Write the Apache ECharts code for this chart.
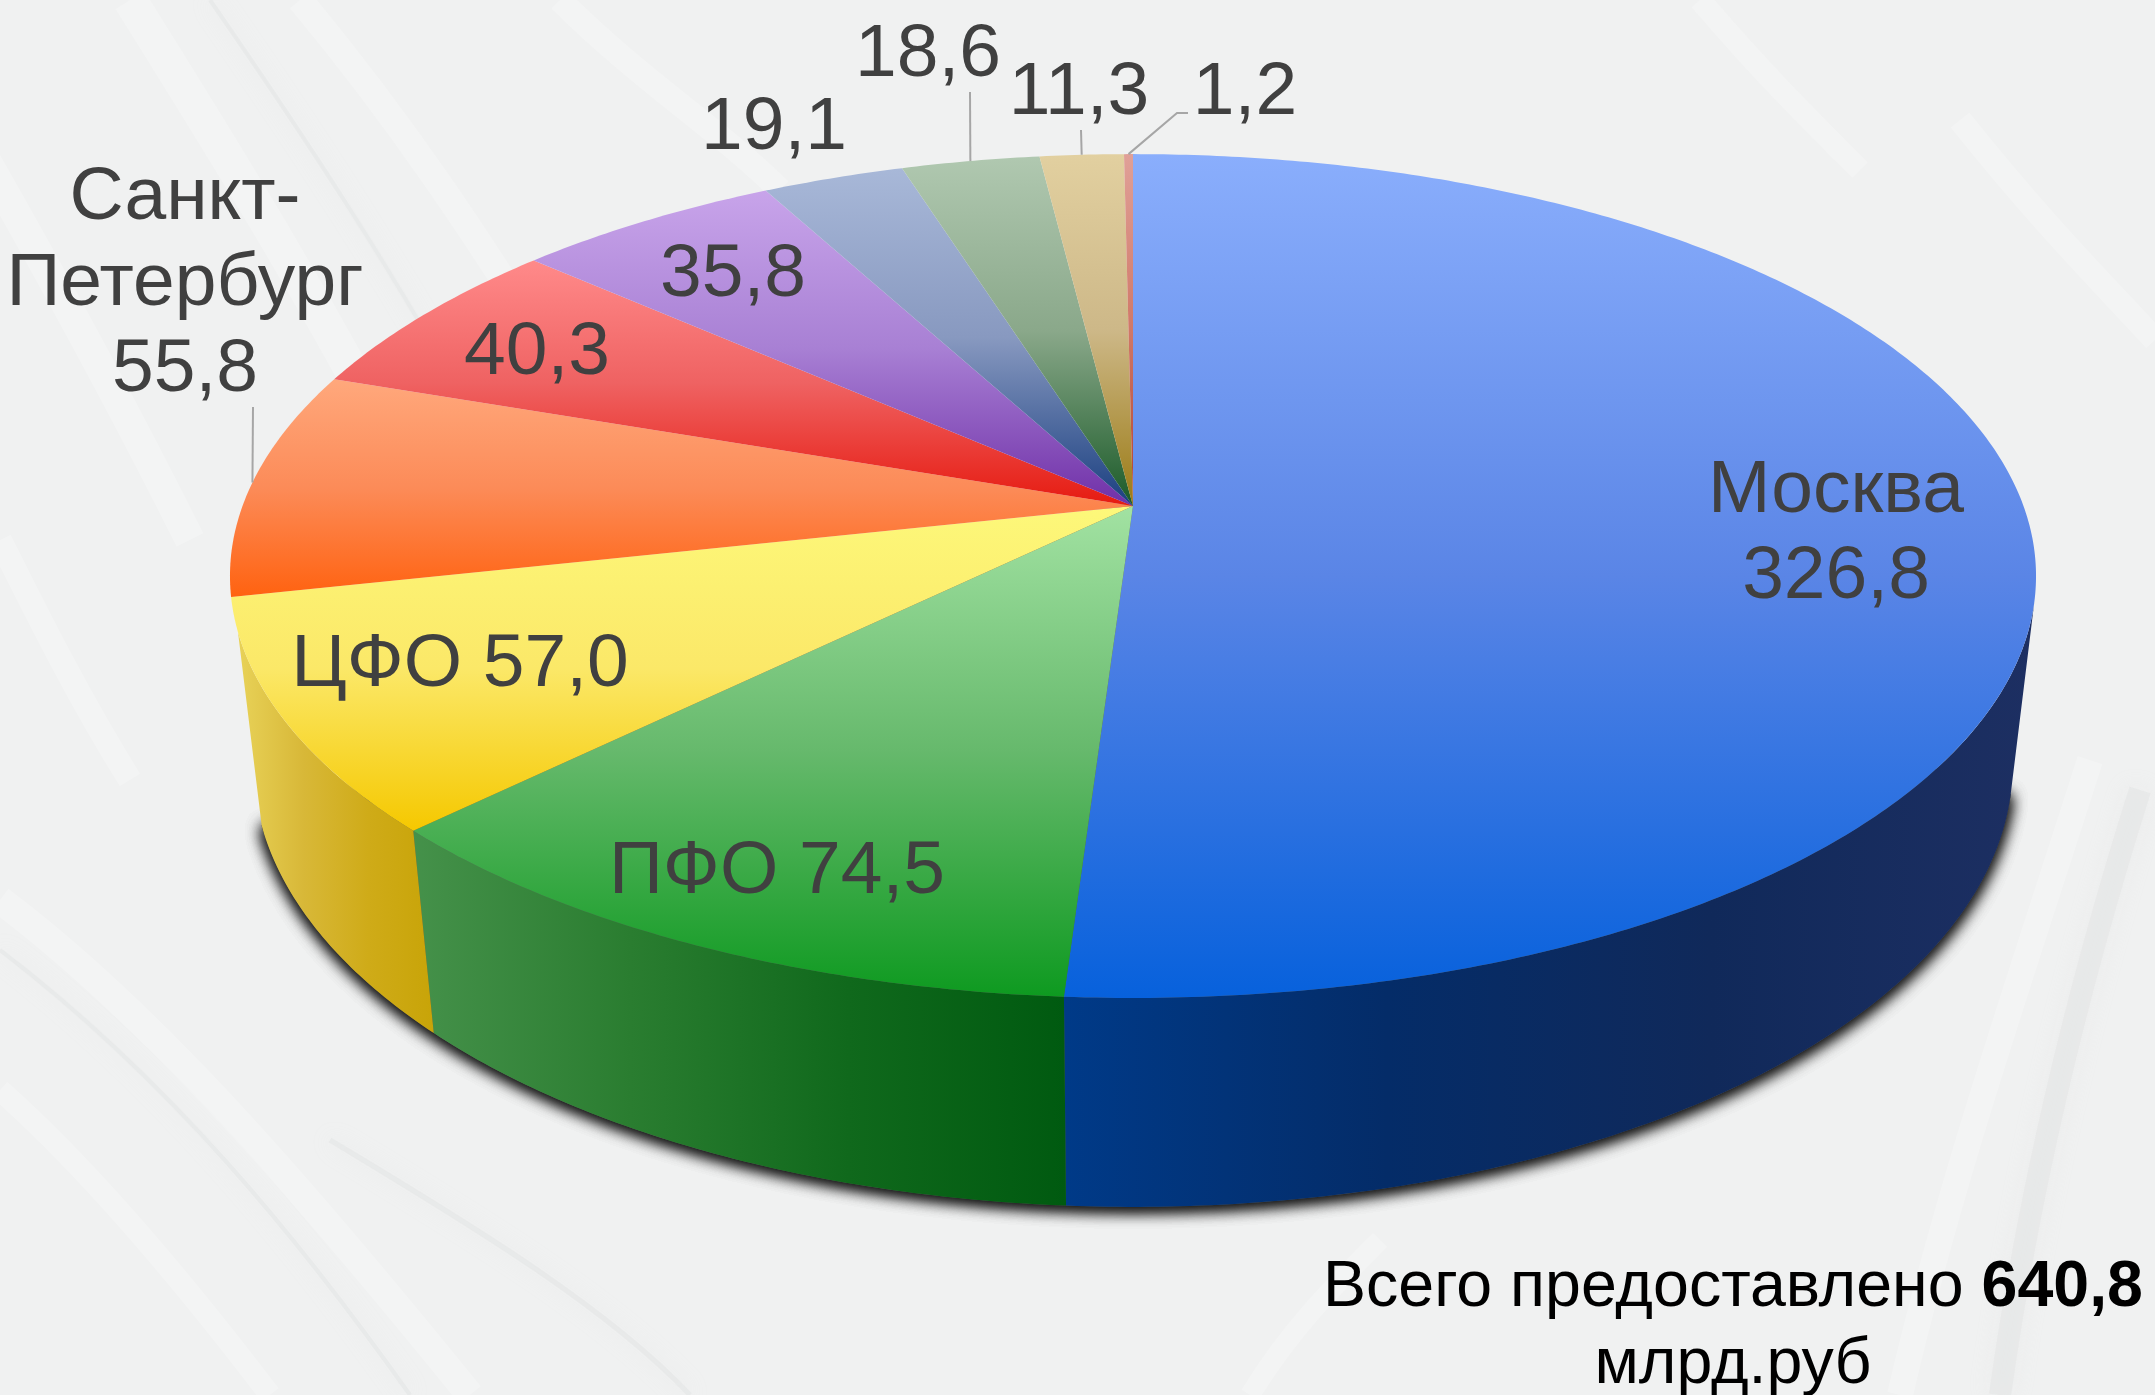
<!DOCTYPE html>
<html>
<head>
<meta charset="utf-8">
<script src="https://cdn.jsdelivr.net/npm/echarts@6/dist/echarts.min.js"></script>
<style>
  html, body { margin: 0; padding: 0; background: #f0f1f1; }
  #chart { width: 2155px; height: 1395px; }
</style>
</head>
<body>
<div id="chart"></div>
<script>
// data
var names = ['Москва', 'ПФО', 'ЦФО', 'Санкт-\nПетербург', '', '', '', '', '', ''];
var values = [326.8, 74.5, 57.0, 55.8, 40.3, 35.8, 19.1, 18.6, 11.3, 1.2];
var totalValue = 640.8;
var totalText = 'Всего предоставлено';
var totalUnit = 'млрд.руб';

// top face colours: far edge -> middle -> near edge
var topColors = [
  ['#8aaefc', '#5a85e6', '#0761dc'], ['#a2e2a2', '#66b96c', '#0e9a20'], ['#fdf87a', '#fbe868', '#f5c800'],
  ['#ffa87c', '#fc8b58', '#ff6210'], ['#ff8a8a', '#ef6262', '#e61a10'], ['#c8a4ea', '#a880d4', '#7030a8'],
  ['#a8b8d8', '#8899c0', '#1a3f80'], ['#b0c8b0', '#8aa88a', '#1a5a28'], ['#e2d0a0', '#cdb888', '#9a7a14'],
  ['#e0a098', '#d07868', '#b04030']
];
// side wall colours, left -> right (only the three near slices show a wall)
var wallColors = [
  ['#003a88', '#042c68', '#10295a', '#1d2f62'],
  ['#45914a', '#2a7d30', '#10691c', '#005a10'],
  ['#e8d258', '#d8b838', '#cfab18', '#c8a408']
];

// label layout, px on the page (same order as values)
var labelPos = [[1836, 534], [777, 872], [460, 665], [185, 284], [537, 353],
                [733, 275], [774, 128], [928, 55], [1079, 93], [1245, 93]];
var labelGlue = ['\n', ' ', ' ', '\n', '', '', '', '', '', ''];
// leader lines: index -> start point(s) above the slice
var leaders = { 3: [[253, 407]], 7: [[970, 92]], 8: [[1081, 130]], 9: [[1188, 113], [1177, 113]] };

// perspective of the disc
var CX = 1133, CY = 506, A = 890.5, B = 410.3, C = 192.4, K = 0.166, M = 0.0259;
// part of the rim that faces the viewer
var WALL_FROM = 103 * Math.PI / 180, WALL_TO = 253 * Math.PI / 180;
var sum = values.reduce(function (s, v) { return s + v; }, 0);
var starts = [];
values.reduce(function (s, v, i) { starts[i] = s; return s + v; }, 0);

function project(theta, r, h) {
  var u = r * Math.sin(theta), v = r * Math.cos(theta);
  var w = 1 + K * v + M * h;
  return [CX + A * u / w, CY + (-B * v + C * h) / w];
}
function toAngle(val) { return val / sum * Math.PI * 2; }
function arc(t0, t1, h) {
  var pts = [], n = Math.max(2, Math.ceil((t1 - t0) / 0.01));
  for (var i = 0; i <= n; i++) pts.push(project(t0 + (t1 - t0) * i / n, 1, h));
  return pts;
}
function fmt(v) { return v.toFixed(1).replace('.', ','); }
function stops(c) {
  return c.map(function (col, i) { return { offset: i / (c.length - 1), color: col }; });
}
function vertical(c) { return { type: 'linear', x: 0, y: 0, x2: 0, y2: 1, colorStops: stops(c) }; }
function horizontal(c) { return { type: 'linear', x: 0, y: 0, x2: 1, y2: 0, colorStops: stops(c) }; }

var seriesData = values.map(function (v, i) { return [i, v]; });

// soft stripes of the background
function stripe(x1, y1, cx1, cy1, cx2, cy2, x2, y2, width, color) {
  return { type: 'bezierCurve', silent: true, z: 0,
    shape: { x1: x1, y1: y1, cpx1: cx1, cpy1: cy1, cpx2: cx2, cpy2: cy2, x2: x2, y2: y2 },
    style: { stroke: color, lineWidth: width, fill: 'none', shadowBlur: 20, shadowColor: color } };
}
var WHITE = 'rgba(255,255,255,0.22)', GREY = 'rgba(226,228,228,0.5)';
var stripes = [
  stripe(130, 0, 230, 160, 330, 320, 430, 520, 34, WHITE),
  stripe(300, 0, 400, 120, 480, 240, 560, 370, 26, WHITE),
  stripe(560, 0, 640, 80, 720, 130, 780, 190, 24, WHITE),
  stripe(-20, 150, 60, 290, 130, 420, 190, 540, 30, WHITE),
  stripe(210, 0, 300, 130, 400, 280, 480, 430, 4, GREY),
  stripe(0, 540, 40, 620, 80, 700, 130, 780, 24, WHITE),
  stripe(0, 900, 160, 1020, 320, 1210, 470, 1395, 28, WHITE),
  stripe(0, 950, 170, 1080, 300, 1240, 410, 1395, 4, GREY),
  stripe(0, 1090, 90, 1170, 190, 1290, 270, 1395, 22, WHITE),
  stripe(330, 1140, 480, 1230, 610, 1310, 690, 1395, 5, GREY),
  stripe(1250, 1395, 1290, 1330, 1330, 1290, 1380, 1240, 20, WHITE),
  stripe(1900, 1395, 1950, 1180, 2020, 980, 2090, 760, 26, WHITE),
  stripe(2000, 1395, 2030, 1180, 2080, 980, 2140, 790, 22, GREY),
  stripe(1700, 0, 1760, 70, 1800, 110, 1860, 170, 22, WHITE),
  stripe(1960, 120, 2040, 220, 2090, 270, 2155, 340, 24, WHITE)
];

var myChart = echarts.init(document.getElementById('chart'), null, { renderer: 'canvas' });
myChart.setOption({
  backgroundColor: '#f0f1f1',
  animation: false,
  graphic: { elements: stripes.concat([{
    type: 'text', z: 20, x: 1733, y: 1327, silent: true,
    style: {
      text: '{n|' + totalText + ' }{b|' + fmt(totalValue) + '}\n{n|' + totalUnit + '}',
      align: 'center', verticalAlign: 'middle',
      rich: {
        n: { fontFamily: 'Liberation Sans', fontSize: 64.5, lineHeight: 77, fill: '#000', align: 'center' },
        b: { fontFamily: 'Liberation Sans', fontSize: 64.5, lineHeight: 77, fontWeight: 'bold', fill: '#000' }
      }
    }
  }]) },
  xAxis: { show: false, min: 0, max: 1 },
  yAxis: { show: false, min: 0, max: 1 },
  grid: { left: 0, right: 0, top: 0, bottom: 0 },
  series: [
    { // shadow under the disc, three passes stacked so it is dark near the edge
      type: 'custom', coordinateSystem: 'none', silent: true, z: 1, data: [[0], [1], [2]],
      renderItem: function () {
        return { type: 'polygon', shape: { points: arc(WALL_FROM, WALL_TO, 1).concat([[CX, CY]]) },
          style: { fill: '#555', shadowBlur: 16, shadowColor: 'rgba(0,0,0,0.7)', shadowOffsetY: 3 } };
      }
    },
    { // side walls
      type: 'custom', coordinateSystem: 'none', silent: true, z: 2, data: seriesData,
      renderItem: function (params) {
        var i = params.dataIndex;
        var t0 = Math.max(toAngle(starts[i]), WALL_FROM), t1 = Math.min(toAngle(starts[i] + values[i]), WALL_TO);
        if (t1 <= t0) return null;
        var pts = arc(t0, t1, 0).concat(arc(t0, t1, 1).reverse());
        return { type: 'polygon', shape: { points: pts }, style: { fill: horizontal(wallColors[i]) } };
      }
    },
    { // top faces
      type: 'custom', coordinateSystem: 'none', silent: true, z: 3, data: seriesData,
      renderItem: function (params) {
        var i = params.dataIndex, t0 = toAngle(starts[i]), t1 = toAngle(starts[i] + values[i]);
        var pts = [[CX, CY]].concat(arc(t0, t1, 0));
        return { type: 'polygon', shape: { points: pts }, style: { fill: vertical(topColors[i]) } };
      }
    },
    { // labels and leader lines
      type: 'custom', coordinateSystem: 'none', silent: true, z: 4, data: seriesData,
      renderItem: function (params) {
        var i = params.dataIndex, kids = [];
        var text = names[i] + labelGlue[i] + fmt(values[i]);
        kids.push({ type: 'text', x: labelPos[i][0], y: labelPos[i][1],
          style: { text: text, fontFamily: 'Liberation Sans', fontSize: 75, lineHeight: 86,
            fill: '#404040', align: 'center', verticalAlign: 'middle' } });
        if (leaders[i]) {
          var mid = toAngle(starts[i] + values[i] / 2);
          kids.push({ type: 'polyline', shape: { points: leaders[i].concat([project(mid, 1, 0)]) },
            style: { stroke: '#a6a6a6', lineWidth: 2, fill: 'none' } });
        }
        return { type: 'group', children: kids };
      }
    }
  ]
});
</script>
</body>
</html>
